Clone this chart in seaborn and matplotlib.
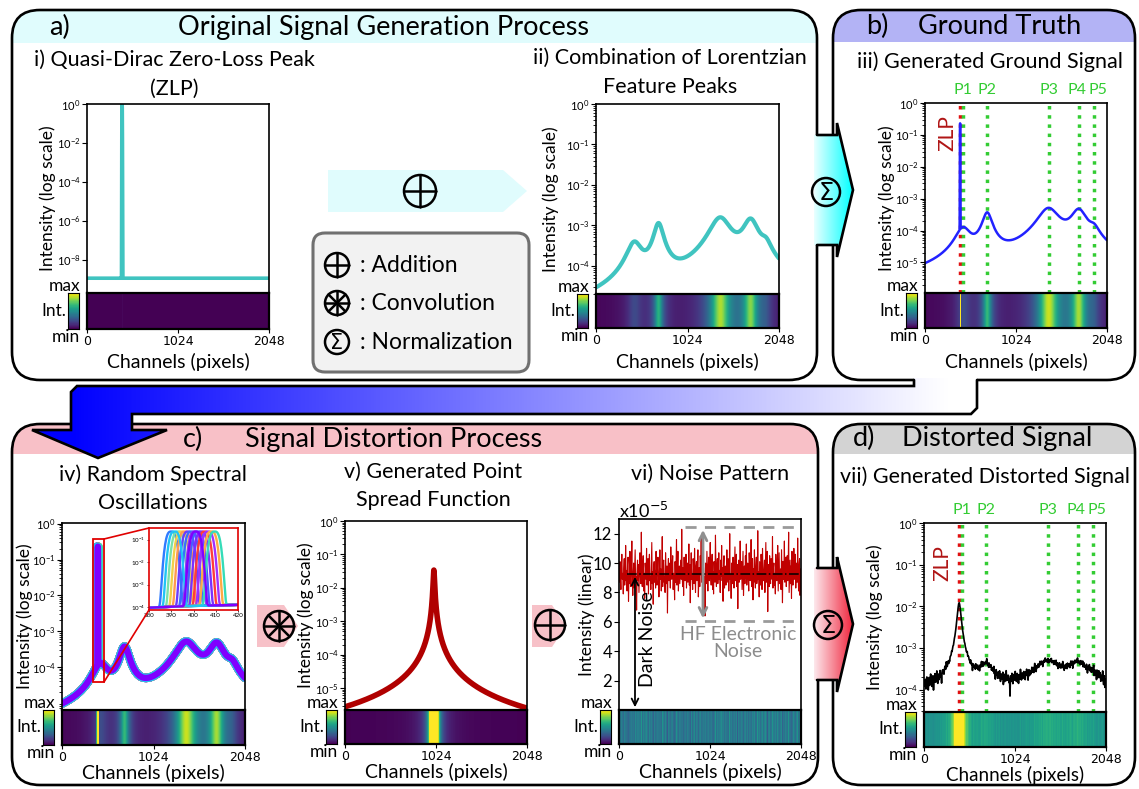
import numpy as np
import matplotlib
matplotlib.use("Agg")
import matplotlib.pyplot as plt
import seaborn as sns
from matplotlib.patches import FancyBboxPatch, Rectangle, Polygon, Circle
from matplotlib.lines import Line2D
from matplotlib.colors import LinearSegmentedColormap
import matplotlib.ticker as mticker

sns.set_style("ticks")
plt.rcParams['font.family'] = ['Lato', 'DejaVu Sans']
plt.rcParams['mathtext.fontset'] = 'dejavusans'
for k in ['text.color', 'axes.edgecolor', 'xtick.color', 'ytick.color', 'axes.labelcolor']:
    plt.rcParams[k] = 'black'

W, H = 1139, 789

# ---------------------------------------------------------------- data
channels = np.arange(2048)
tick_labels = ['0', '1024', '2048']

# i) quasi-Dirac zero-loss peak
zlp_center = 395
zlp_halfwidth = 2.5
zlp_peak_raw = 1.0
zlp_floor = 1.15e-9

# ii) Lorentzian feature peaks (raw, before normalisation)
peak_names = ['P1', 'P2', 'P3', 'P4', 'P5']
peak_centers = [430, 700, 1390, 1730, 1900]
peak_amps_raw = [3.4e-4, 1.07e-3, 1.5e-3, 1.31e-3, 2.1e-4]
peak_widths = [80, 50, 110, 80, 60]

# iii) ground signal (after normalisation)
ground_zlp_peak = 0.23
peak_amps_ground = [1.1e-4, 3.5e-4, 4.9e-4, 4.3e-4, 7.0e-5]
zlp_marker = 390
peak_markers = [432, 702, 1392, 1730, 1898]
peak_label_shift = [0, 0, 0, -15, 45]

# iv) random spectral oscillations of the ZLP position
osc_centers = [390, 393, 394.5, 396, 397.5, 399, 400.5, 402, 403.5, 405, 406.5, 408, 409.5, 391.5, 401]
osc_colors = ['#2f7bff', '#7be0a8', '#f2d04a', '#ff9b4f', '#6a3cff', '#3a6cff', '#9040f0', '#4a5cff',
              '#7a30ff', '#ff3b3b', '#a030ff', '#ffaa44', '#35dcb8', '#20c4f4', '#8000ff']

# v) point spread function
psf_center = 1000
psf_peak = 3.4e-2
psf_width = 7
psf_power = 1.9

# vi) noise pattern (x 1e-5)
noise_vals = np.array([
    9.4, 8.7, 10.1, 9.0, 8.2, 9.8, 10.6, 8.9, 9.3, 7.9, 9.6, 10.3, 8.5, 9.1, 11.2, 8.8,
    9.5, 8.1, 9.9, 10.4, 7.4, 9.2, 8.6, 10.8, 9.0, 8.4, 9.7, 11.5, 8.9, 7.8, 9.3, 10.0,
    8.3, 9.6, 10.9, 8.7, 9.1, 6.8, 9.4, 10.2, 8.8, 9.9, 8.0, 9.5, 10.7, 9.2, 8.6, 12.1,
    9.0, 8.4, 9.8, 10.5, 8.1, 9.3, 7.6, 10.0, 9.6, 8.9, 11.0, 8.5, 9.2, 10.3, 7.9, 9.7,
    10.6, 8.8, 9.1, 8.2, 9.9, 11.4, 8.6, 9.4, 7.2, 9.8, 10.1, 8.7, 9.5, 8.3, 10.8, 9.0,
    8.5, 9.7, 10.4, 9.2, 7.7, 9.0, 10.9, 8.9, 9.6, 8.1, 9.3, 11.8, 8.4, 9.9, 10.2, 8.7,
    9.1, 8.0, 10.7, 9.4, 8.6, 9.8, 6.6, 9.5, 10.3, 8.8, 9.2, 10.0, 8.3, 11.1, 9.6, 8.9,
    9.9, 10.5, 8.2, 9.3, 9.0, 7.5, 10.1, 8.7, 9.7, 11.6, 8.5, 9.4, 10.8, 8.1, 9.2, 9.8,
    8.6, 9.5, 10.2, 8.9, 12.3, 9.1, 8.4, 9.7, 7.8, 10.4, 9.0, 8.8, 9.6, 10.6, 8.3, 9.3,
    10.0, 8.7, 9.2, 11.3, 8.5, 9.9, 7.3, 9.4, 10.7, 8.9, 9.1, 8.2, 10.3, 9.6, 8.6, 11.0,
    9.3, 8.0, 9.8, 10.1, 8.8, 9.5, 10.9, 7.7, 9.0, 9.7, 8.4, 10.5, 9.2, 11.7, 8.7, 9.4,
    8.9, 10.2, 9.6, 8.3, 9.1, 6.4, 10.0, 9.8, 8.6, 10.8, 9.3, 8.1, 9.9, 10.4, 8.8, 9.5,
    11.4, 9.0, 8.5, 9.7, 10.6, 8.2, 9.4, 7.9, 10.1, 9.2, 8.7, 11.9, 9.6, 8.4, 9.8, 10.3,
    8.6, 9.3, 10.7, 8.9, 9.5, 8.0, 10.2, 9.1, 11.2, 8.8, 9.7, 7.4, 9.9, 10.5, 8.3, 9.2,
    9.8, 8.5, 9.0, 10.9, 8.7, 9.6, 10.3, 8.1, 9.4, 12.0, 8.9, 9.2, 7.6, 10.0, 9.5, 8.6,
    10.4, 9.1, 8.3, 9.7, 11.1, 8.8, 9.3, 10.6, 8.4, 9.9, 6.9, 9.5, 10.2, 8.7, 9.0, 11.5,
    8.9, 9.6, 10.1, 8.2, 9.4, 10.8, 7.8, 9.2, 9.8, 8.6, 10.5, 9.0, 11.3, 8.5, 9.7, 10.0,
    9.3, 8.1, 10.7, 9.5, 8.8, 9.1, 11.6, 8.4, 9.9, 10.3, 7.5, 9.6, 8.7, 10.9, 9.2, 8.3,
    9.7, 10.4, 8.6, 9.0, 12.2, 8.9, 9.4, 7.7, 10.1, 9.3, 8.5, 10.6, 9.8, 8.2, 11.0, 9.1,
    8.8, 9.5, 10.2, 8.0, 9.6, 11.4, 8.7, 9.2, 10.8, 6.7, 9.4, 9.9, 8.4, 10.5, 9.0, 8.6,
    10.3, 9.1, 8.9, 11.8, 8.3, 9.7, 10.0, 8.5, 9.3, 7.9, 10.6, 9.2, 8.8, 9.8, 11.2, 8.1,
    9.4, 10.7, 8.6, 9.0, 9.6, 8.2, 10.9, 9.5, 7.3, 10.1, 8.9, 9.3, 11.5, 8.7, 9.9, 10.4,
    8.4, 9.2, 10.5, 8.8, 9.7, 12.1, 8.0, 9.1, 10.2, 8.6, 9.8, 7.6, 10.8, 9.4, 8.5, 9.6,
    11.0, 8.9, 9.3, 10.6, 8.3, 9.5, 10.0, 8.7, 11.7, 9.2, 8.1, 9.9, 10.3, 7.8, 9.6, 9.1])
dark_level = 9.25
hf_band = [6.05, 12.45]
noise_scale = 1e-5

# vii) distorted signal
dist_baseline = 1.0e-4
dist_zlp_peak = 1.2e-2
dist_zlp_width = 20
dist_peak_amps = [5e-5, 2.6e-4, 3.6e-4, 3.0e-4, 6e-5]
dist_peak_widths = [80, 80, 150, 110, 80]
dist_noise_gain = 4.0


def lorentz(x, centers, amps, widths):
    out = np.zeros_like(np.asarray(x, dtype=float))
    for c, a, w in zip(centers, amps, widths):
        out += a * w ** 2 / ((x - c) ** 2 + w ** 2)
    return out


def zlp_shape(x, c, h, w):
    return h * np.exp(-np.abs((x - c) / w) ** 3)


sig_zlp = zlp_shape(channels, zlp_center, zlp_peak_raw, zlp_halfwidth) + zlp_floor
sig_features = lorentz(channels, peak_centers, peak_amps_raw, peak_widths)
ground_feat = lorentz(channels, peak_centers, peak_amps_ground, peak_widths)
sig_ground = zlp_shape(channels, zlp_center, ground_zlp_peak, zlp_halfwidth) + ground_feat
osc_curves = [zlp_shape(channels, c, ground_zlp_peak, zlp_halfwidth) + ground_feat for c in osc_centers]
x_fine = np.arange(380, 420.01, 0.25)
ground_feat_fine = lorentz(x_fine, peak_centers, peak_amps_ground, peak_widths)
osc_fine = [zlp_shape(x_fine, c, ground_zlp_peak, zlp_halfwidth) + ground_feat_fine for c in osc_centers]
sig_psf = psf_peak / (1 + (np.abs(channels - psf_center) / psf_width) ** psf_power)
noise_x = np.linspace(0, 2048, noise_vals.size)
sig_dist = (dist_baseline
            + lorentz(noise_x, [zlp_center], [dist_zlp_peak], [dist_zlp_width])
            + lorentz(noise_x, peak_centers, dist_peak_amps, dist_peak_widths)
            + (noise_vals - dark_level) * noise_scale * dist_noise_gain)

# ---------------------------------------------------------------- figure
fig = plt.figure(figsize=(W / 100, H / 100), dpi=100)
bg = fig.add_axes([0, 0, 1, 1])
bg.set_xlim(0, W)
bg.set_ylim(H, 0)
bg.axis('off')


def px_rect(L, T, R, B):
    return [L / W, 1 - B / H, (R - L) / W, (B - T) / H]


def rbox(x0, y0, x1, y1, hh, hcol, r=28):
    fill = FancyBboxPatch((x0, y0), x1 - x0, y1 - y0, boxstyle=f"round,pad=0,rounding_size={r}",
                          fc='white', ec='none', zorder=1)
    bg.add_patch(fill)
    hdr = Rectangle((x0, y0), x1 - x0, hh, fc=hcol, ec='none', zorder=1.5)
    bg.add_patch(hdr)
    hdr.set_clip_path(fill)
    bg.add_patch(FancyBboxPatch((x0, y0), x1 - x0, y1 - y0, boxstyle=f"round,pad=0,rounding_size={r}",
                                fc='none', ec='black', lw=1.9, zorder=2))


rbox(12, 10, 817, 380, 33, '#e0fcfd')
rbox(833, 10, 1135, 380, 32, '#b3b3f5')
rbox(12, 424, 818, 785, 30, '#f8c0c7')
rbox(833, 424, 1135, 785, 30, '#d3d3d3')


def grad_poly(pts, stops, z):
    poly = Polygon(pts, closed=True, fc='none', ec='none', zorder=z)
    bg.add_patch(poly)
    xs = [p[0] for p in pts]
    ys = [p[1] for p in pts]
    cmap = LinearSegmentedColormap.from_list('g', stops)
    im = bg.imshow(np.linspace(0, 1, 512)[None, :], cmap=cmap, extent=[min(xs), max(xs), max(ys), min(ys)],
                   aspect='auto', zorder=z, interpolation='bilinear')
    im.set_clip_path(poly)


def outline(pts, z=3.5, lw=1.9, color='black'):
    bg.add_line(Line2D([p[0] for p in pts], [p[1] for p in pts], color=color, lw=lw, zorder=z,
                       solid_joinstyle='miter'))


def op_symbol(cx, cy, r, kind, z=6):
    bg.add_patch(Circle((cx, cy), r, fc='none', ec='black', lw=1.8, zorder=z))
    if kind == 'add':
        outline([(cx - r, cy), (cx + r, cy)], z, 1.8)
        outline([(cx, cy - r), (cx, cy + r)], z, 1.8)
    elif kind == 'conv':
        for ang in [0, 45, 90, 135]:
            dx, dy = r * np.cos(np.radians(ang)), r * np.sin(np.radians(ang))
            outline([(cx - dx, cy - dy), (cx + dx, cy + dy)], z, 1.8)
    else:
        bg.text(cx, cy + 1, 'Σ', ha='center', va='center', fontsize=r * 1.25,
                family='DejaVu Sans', zorder=z)


# arrows between boxes
pts_ab = [(814, 135), (837, 135), (837, 123), (853, 190), (837, 257), (837, 245), (814, 245)]
grad_poly(pts_ab, ['#eaffff', '#00ffff'], 3)
outline([(817, 135), (837, 135), (837, 123), (853, 190), (837, 257), (837, 245), (817, 245)])
op_symbol(826, 192, 14, 'norm')

pts_cd = [(814, 568), (837, 568), (837, 557), (853, 624), (837, 692), (837, 680), (814, 680)]
grad_poly(pts_cd, ['#fde9ed', '#f0253d'], 3)
outline([(817, 568), (837, 568), (837, 557), (853, 624), (837, 692), (837, 680), (817, 680)])
op_symbol(828, 625, 14, 'norm')

# big blue band b -> c
band = [(71, 392), (77, 386), (914, 386), (914, 378), (977, 378), (977, 408), (971, 414),
        (132, 414), (132, 430), (167, 430), (98, 458), (32, 430), (71, 430)]
grad_poly(band, [(0, '#0000ff'), (0.04, '#0000ff'), (0.97, '#ffffff'), (1, '#ffffff')], 3)
outline([(914, 380), (914, 386), (77, 386), (71, 392), (71, 430), (32, 430), (98, 458), (167, 430),
         (132, 430), (132, 414), (971, 414), (977, 408), (977, 380)])

# operator arrows inside panels
bg.add_patch(Polygon([(328, 170), (503, 170), (527, 191), (503, 212), (328, 212)], fc='#e0fcfd', ec='none', zorder=3))
op_symbol(420, 191, 16, 'add')
bg.add_patch(Polygon([(257, 605), (284, 605), (298, 626), (284, 647), (257, 647)], fc='#f7c1c8', ec='none', zorder=3))
op_symbol(279, 626, 15, 'conv')
bg.add_patch(Polygon([(532, 605), (552, 605), (566, 626), (552, 647), (532, 647)], fc='#f7c1c8', ec='none', zorder=3))
op_symbol(550, 625, 15, 'add')

# legend box
bg.add_patch(FancyBboxPatch((313, 233), 216, 139, boxstyle="round,pad=0,rounding_size=12",
                            fc='#f2f2f2', ec='#707070', lw=2.2, zorder=3))
for yy, kind, lab in [(265, 'add', ': Addition'), (303, 'conv', ': Convolution'), (342, 'norm', ': Normalization')]:
    op_symbol(337, yy, 12, kind)
    bg.text(360, yy, lab, ha='left', va='center', fontsize=16.5, zorder=6)

# headers
hfs = 19.5
for x, y, s in [(59, 27, 'a)'), (384, 27, 'Original Signal Generation Process'),
                (877, 26, 'b)'), (1000, 26, 'Ground Truth'),
                (193, 439, 'c)'), (394, 439, 'Signal Distortion Process'),
                (864, 438, 'd)'), (997, 438, 'Distorted Signal')]:
    bg.text(x, y, s, ha='center', va='center', fontsize=hfs, zorder=6)

# sub-panel titles
tfs = 15.5
for x, y, s in [(174, 60, 'i) Quasi-Dirac Zero-Loss Peak'), (174, 89, '(ZLP)'),
                (670, 58, 'ii) Combination of Lorentzian'), (670, 87, 'Feature Peaks'),
                (990, 62, 'iii) Generated Ground Signal'),
                (153, 475, 'iv) Random Spectral'), (153, 503, 'Oscillations'),
                (433, 472, 'v) Generated Point'), (433, 500, 'Spread Function'),
                (710, 474, 'vi) Noise Pattern'),
                (985, 477, 'vii) Generated Distorted Signal')]:
    bg.text(x, y, s, ha='center', va='center', fontsize=tfs, zorder=6)

# ---------------------------------------------------------------- panels
P = {
    'i': dict(L=87, R=269, T=104, B=293, S=329, yl=-0.214, xl=33, xfs=14),
    'ii': dict(L=596, R=779, T=104, B=294, S=328, yl=-0.25, xl=34, xfs=14),
    'iii': dict(L=925, R=1107, T=103, B=293, S=328, yl=-0.21, xl=34, xfs=14),
    'iv': dict(L=62, R=245, T=523, B=710, S=745, yl=-0.205, xl=28, xfs=14),
    'v': dict(L=345, R=527, T=521, B=710, S=744, yl=-0.215, xl=28, xfs=14),
    'vi': dict(L=619, R=801, T=519, B=710, S=744, yl=-0.18, xl=28, xfs=14),
    'vii': dict(L=924, R=1106, T=523, B=712, S=747, yl=-0.27, xl=27.5, xfs=13.5),
}


def make_panel(key, ylabel, strip_vals, vmin, vmax):
    p = P[key]
    L, R, T, B, S = p['L'], p['R'], p['T'], p['B'], p['S']
    ax = fig.add_axes(px_rect(L, T, R, B))
    sx = fig.add_axes(px_rect(L, B, R, S))
    cx = fig.add_axes(px_rect(L - 19, B, L - 8, S))
    # strip
    sns.heatmap(np.asarray(strip_vals)[None, :], ax=sx, cmap='viridis', vmin=vmin, vmax=vmax,
                cbar=False, xticklabels=False, yticklabels=False)
    n = len(strip_vals)
    sx.set_xticks([0, n / 2, n])
    sx.set_xticklabels(tick_labels, family='DejaVu Sans')
    sx.set_yticks([])
    sx.tick_params(axis='x', length=3, width=0.8, labelsize=9, pad=1)
    for s in sx.spines.values():
        s.set_visible(True)
        s.set_linewidth(1.6)
        s.set_color('black')
    # mini colour bar
    sns.heatmap(np.linspace(1, 0, 64)[:, None], ax=cx, cmap='viridis', cbar=False,
                xticklabels=False, yticklabels=False)
    cx.set_xticks([])
    cx.set_yticks([])
    for s in cx.spines.values():
        s.set_visible(True)
        s.set_linewidth(0.8)
    bg.text(L - 7, B - 7, 'max', ha='right', va='center', fontsize=12.5, zorder=6)
    bg.text(L - 21, (B + S) / 2, 'Int.', ha='right', va='center', fontsize=12.5, zorder=6)
    bg.text(L - 7, S + 8, 'min', ha='right', va='center', fontsize=12.5, zorder=6)
    bg.text((L + R) / 2, S + p['xl'], 'Channels (pixels)', ha='center', va='center', fontsize=p['xfs'],
            zorder=6)
    bg.text(L + p['yl'] * (R - L), (T + B) / 2, ylabel, rotation=90, ha='center', va='center',
            fontsize=12.5, zorder=6)
    # main axes
    ax.set_xticks([])
    for s in ax.spines.values():
        s.set_linewidth(1.2)
        s.set_color('black')
    ax.tick_params(axis='y', which='major', length=3.5, width=0.8, labelsize=8, pad=1.2)
    ax.tick_params(axis='y', which='minor', length=2, width=0.6)
    return ax


def log_axis(ax, lo, hi, ticks, minor=True):
    ax.set_yscale('log')
    ax.set_ylim(lo, hi)
    ax.set_xlim(0, 2048)
    ax.set_yticks(ticks)
    ax.yaxis.set_major_formatter(mticker.LogFormatterSciNotation())
    if minor:
        ax.yaxis.set_minor_locator(mticker.LogLocator(base=10, subs=np.arange(2, 10), numticks=30))
    else:
        ax.yaxis.set_minor_locator(mticker.NullLocator())
    ax.yaxis.set_minor_formatter(mticker.NullFormatter())


def mark_peaks(ax, zlp_xy):
    ax.axvline(zlp_marker, color='#e01010', ls=':', lw=2.5, zorder=1)
    for name, c, sh in zip(peak_names, peak_markers, peak_label_shift):
        ax.axvline(c, color='#33cc33', ls=':', lw=2.5, zorder=1)
        ax.text(c + sh, 1.068, name, transform=ax.get_xaxis_transform(), ha='center', va='center',
                color='#33cc33', fontsize=11.5, clip_on=False)
    ax.text(zlp_xy[0], zlp_xy[1], 'ZLP', transform=ax.get_xaxis_transform(), rotation=90,
            ha='center', va='center', color='#b01515', fontsize=15)


# i
ax = make_panel('i', 'Intensity (log scale)', sig_zlp, 0, 1.0)
sns.lineplot(x=channels, y=sig_zlp, ax=ax, color='#40c4c0', lw=2.6, estimator=None)
log_axis(ax, 2e-10, 1.0, [1e0, 1e-2, 1e-4, 1e-6, 1e-8], minor=False)

# ii
ax = make_panel('ii', 'Intensity (log scale)', sig_features, 0, 1.8e-3)
sns.lineplot(x=channels, y=sig_features, ax=ax, color='#40c4c0', lw=3, estimator=None)
log_axis(ax, 2e-5, 1.0, [1e0, 1e-1, 1e-2, 1e-3, 1e-4])

# iii
ax = make_panel('iii', 'Intensity (log scale)', sig_ground, 0, 5.6e-4)
mark_peaks(ax, (248, 0.84))
sns.lineplot(x=channels, y=sig_ground, ax=ax, color='#2222ff', lw=1.8, estimator=None)
log_axis(ax, 1.1e-6, 1.0, [1e0, 1e-1, 1e-2, 1e-3, 1e-4, 1e-5])

# iv
ax = make_panel('iv', 'Intensity (log scale)', np.mean(osc_curves, axis=0), 0, 5.6e-4)
for i, (curve, col) in enumerate(zip(osc_curves, osc_colors)):
    last = i == len(osc_curves) - 1
    sns.lineplot(x=channels, y=curve, ax=ax, color=col, lw=4.5 if last else 6, estimator=None)
log_axis(ax, 6.3e-6, 1.05, [1e0, 1e-1, 1e-2, 1e-3, 1e-4])
ax.add_patch(Rectangle((347, 3.8e-5), 123, 0.38 - 3.8e-5, fc='none', ec='#e00000', lw=1.3, zorder=5))
fig.add_artist(Line2D([104 / W, 149 / W], [1 - 539 / H, 1 - 528 / H], color='#e00000', lw=1.2, zorder=5))
fig.add_artist(Line2D([104 / W, 149 / W], [1 - 682 / H, 1 - 610 / H], color='#e00000', lw=1.2, zorder=5))
ins = fig.add_axes(px_rect(149, 528, 238, 610))
for curve, col in zip(osc_fine, osc_colors):
    sns.lineplot(x=x_fine, y=curve, ax=ins, color=col, lw=1.7, estimator=None)
ins.set_yscale('log')
ins.set_ylim(7.5e-5, 0.33)
ins.set_xlim(380, 420)
ins.set_xticks([380, 390, 400, 410, 420])
ins.set_yticks([1e-1, 1e-2, 1e-3, 1e-4])
ins.yaxis.set_minor_locator(mticker.NullLocator())
ins.tick_params(labelsize=4.5, length=1.5, width=0.5, pad=1)
for s in ins.spines.values():
    s.set_color('#e00000')
    s.set_linewidth(1.2)

# v
ax = make_panel('v', 'Intensity (log scale)', sig_psf, 0, 8e-4)
sns.lineplot(x=channels, y=sig_psf, ax=ax, color='#b00000', lw=4, estimator=None)
log_axis(ax, 2.2e-6, 1.0, [1e0, 1e-1, 1e-2, 1e-3, 1e-4, 1e-5])

# vi
ax = make_panel('vi', 'Intensity (linear)', noise_vals, 0, 23)
sns.lineplot(x=noise_x, y=noise_vals, ax=ax, color='#c00000', lw=0.8, estimator=None)
ax.set_xlim(0, 2048)
ax.set_ylim(0, 13)
ax.set_yticks([2, 4, 6, 8, 10, 12])
ax.tick_params(axis='y', labelsize=12, pad=1.5)
ax.hlines(dark_level, 90, 2048, color='black', ls='-.', lw=1.1, zorder=4)
ax.hlines(hf_band, 743, 2013, color='#9a9a9a', ls=(0, (4, 3)), lw=2, zorder=4)
ax.annotate('', xy=(945, hf_band[0]), xytext=(945, hf_band[1]),
            arrowprops=dict(arrowstyle='<->', color='#909090', lw=2, mutation_scale=14), zorder=5)
ax.annotate('', xy=(180, 0), xytext=(180, dark_level),
            arrowprops=dict(arrowstyle='<->', color='black', lw=1.3, mutation_scale=12), zorder=5,
            annotation_clip=False)
ax.text(1340, 4.55, 'HF Electronic\nNoise', ha='center', va='center', color='#8c8c8c', fontsize=14,
        linespacing=1.0)
ax.text(326, 4.8, 'Dark Noise', rotation=90, ha='center', va='center', fontsize=14)
bg.text(619, 511, r'x10$^{-5}$', ha='left', va='center', fontsize=13, zorder=6)

# vii
ax = make_panel('vii', 'Intensity (log scale)', sig_dist, -1.4e-3, 1.65e-3)
mark_peaks(ax, (203, 0.79))
sns.lineplot(x=noise_x, y=sig_dist, ax=ax, color='black', lw=1.2, estimator=None)
log_axis(ax, 2.9e-5, 1.0, [1e0, 1e-1, 1e-2, 1e-3, 1e-4])

bg.set_xlim(0, W)
bg.set_ylim(H, 0)
fig.savefig('out.png', dpi=100)
